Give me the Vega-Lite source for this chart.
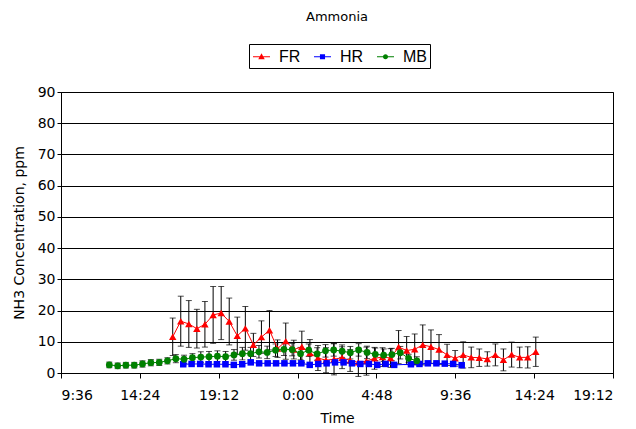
{
  "$schema": "https://vega.github.io/schema/vega-lite/v6.json",
  "width": 552,
  "height": 281,
  "autosize": {"type": "none"},
  "padding": {"left": 61, "top": 92, "right": 23, "bottom": 56},
  "background": "white",
  "title": {"text": "Ammonia", "offset": 20, "fontSize": 13, "fontWeight": "normal", "font": "DejaVu Sans", "color": "black", "anchor": "middle"},
  "data": {"values": [
    {"series":"FR","t":16.40,"v":11.6,"err":6.0},{"series":"FR","t":16.89,"v":16.6,"err":8.0},{"series":"FR","t":17.38,"v":15.7,"err":7.5},{"series":"FR","t":17.87,"v":14.2,"err":6.2},{"series":"FR","t":18.36,"v":15.6,"err":7.3},{"series":"FR","t":18.86,"v":18.6,"err":9.1},{"series":"FR","t":19.35,"v":19.2,"err":8.5},{"series":"FR","t":19.84,"v":16.5,"err":7.5},{"series":"FR","t":20.33,"v":11.9,"err":6.0},{"series":"FR","t":20.82,"v":14.3,"err":7.0},{"series":"FR","t":21.31,"v":9.0,"err":3.7},{"series":"FR","t":21.80,"v":11.5,"err":5.2},{"series":"FR","t":22.29,"v":13.7,"err":6.3},{"series":"FR","t":22.78,"v":7.8,"err":2.8},{"series":"FR","t":23.28,"v":10.2,"err":5.8},{"series":"FR","t":23.77,"v":7.5,"err":3.0},{"series":"FR","t":24.26,"v":8.4,"err":5.0},{"series":"FR","t":24.75,"v":6.4,"err":4.3},{"series":"FR","t":25.24,"v":4.8,"err":4.0},{"series":"FR","t":25.73,"v":4.1,"err":4.0},{"series":"FR","t":26.22,"v":4.4,"err":5.0},{"series":"FR","t":26.71,"v":4.9,"err":3.5},{"series":"FR","t":27.20,"v":4.0,"err":3.5},{"series":"FR","t":27.70,"v":3.4,"err":4.5},{"series":"FR","t":28.19,"v":3.8,"err":4.5},{"series":"FR","t":28.68,"v":4.7,"err":3.5},{"series":"FR","t":29.17,"v":5.1,"err":3.0},{"series":"FR","t":29.66,"v":4.8,"err":3.0},{"series":"FR","t":30.15,"v":8.3,"err":5.3},{"series":"FR","t":30.64,"v":7.2,"err":4.5},{"series":"FR","t":31.13,"v":7.6,"err":4.9},{"series":"FR","t":31.62,"v":9.0,"err":6.4},{"series":"FR","t":32.12,"v":8.4,"err":5.4},{"series":"FR","t":32.61,"v":7.5,"err":4.8},{"series":"FR","t":33.10,"v":5.8,"err":3.4},{"series":"FR","t":33.59,"v":4.7,"err":2.5},{"series":"FR","t":34.08,"v":5.8,"err":4.2},{"series":"FR","t":34.57,"v":5.0,"err":3.3},{"series":"FR","t":35.06,"v":4.9,"err":2.8},{"series":"FR","t":35.55,"v":4.5,"err":2.3},{"series":"FR","t":36.04,"v":5.8,"err":3.5},{"series":"FR","t":36.53,"v":4.2,"err":3.5},{"series":"FR","t":37.03,"v":5.9,"err":4.0},{"series":"FR","t":37.52,"v":5.0,"err":3.3},{"series":"FR","t":38.01,"v":5.0,"err":3.4},{"series":"FR","t":38.50,"v":6.8,"err":4.7},
    {"series":"HR","t":17.04,"v":2.8,"err":0.3},{"series":"HR","t":17.55,"v":2.9,"err":0.3},{"series":"HR","t":18.07,"v":2.9,"err":0.3},{"series":"HR","t":18.58,"v":2.8,"err":0.3},{"series":"HR","t":19.09,"v":2.8,"err":0.3},{"series":"HR","t":19.61,"v":2.8,"err":0.3},{"series":"HR","t":20.12,"v":2.6,"err":0.3},{"series":"HR","t":20.63,"v":2.8,"err":0.3},{"series":"HR","t":21.15,"v":3.4,"err":0.3},{"series":"HR","t":21.66,"v":3.1,"err":0.3},{"series":"HR","t":22.18,"v":3.1,"err":0.3},{"series":"HR","t":22.69,"v":3.1,"err":0.3},{"series":"HR","t":23.20,"v":3.1,"err":0.3},{"series":"HR","t":23.72,"v":3.1,"err":0.3},{"series":"HR","t":24.23,"v":3.1,"err":0.3},{"series":"HR","t":24.74,"v":2.6,"err":0.3},{"series":"HR","t":25.26,"v":2.9,"err":0.3},{"series":"HR","t":25.77,"v":3.1,"err":0.3},{"series":"HR","t":26.28,"v":3.4,"err":0.3},{"series":"HR","t":26.80,"v":3.4,"err":0.3},{"series":"HR","t":27.31,"v":3.1,"err":0.3},{"series":"HR","t":27.82,"v":2.9,"err":0.3},{"series":"HR","t":28.34,"v":2.9,"err":0.3},{"series":"HR","t":28.85,"v":2.6,"err":0.3},{"series":"HR","t":29.36,"v":2.9,"err":0.3},{"series":"HR","t":29.88,"v":2.6,"err":0.3},{"series":"HR","t":30.90,"v":2.8,"err":0.3},{"series":"HR","t":31.42,"v":2.9,"err":0.3},{"series":"HR","t":31.93,"v":3.1,"err":0.3},{"series":"HR","t":32.45,"v":3.1,"err":0.3},{"series":"HR","t":32.96,"v":3.0,"err":0.3},{"series":"HR","t":33.47,"v":2.9,"err":0.3},{"series":"HR","t":33.99,"v":2.5,"err":0.3},
    {"series":"MB","t":12.54,"v":2.6,"err":0.9},{"series":"MB","t":13.05,"v":2.3,"err":0.9},{"series":"MB","t":13.55,"v":2.5,"err":0.9},{"series":"MB","t":14.06,"v":2.5,"err":0.9},{"series":"MB","t":14.56,"v":2.9,"err":1.0},{"series":"MB","t":15.07,"v":3.3,"err":1.0},{"series":"MB","t":15.58,"v":3.4,"err":1.0},{"series":"MB","t":16.08,"v":3.9,"err":1.0},{"series":"MB","t":16.59,"v":4.6,"err":1.3},{"series":"MB","t":17.09,"v":4.4,"err":1.3},{"series":"MB","t":17.60,"v":4.9,"err":1.3},{"series":"MB","t":18.11,"v":5.1,"err":1.7},{"series":"MB","t":18.61,"v":5.2,"err":1.7},{"series":"MB","t":19.12,"v":5.4,"err":1.7},{"series":"MB","t":19.62,"v":5.2,"err":1.7},{"series":"MB","t":20.13,"v":5.8,"err":1.7},{"series":"MB","t":20.64,"v":6.2,"err":2.0},{"series":"MB","t":21.14,"v":6.2,"err":2.0},{"series":"MB","t":21.65,"v":6.8,"err":2.0},{"series":"MB","t":22.15,"v":6.6,"err":2.0},{"series":"MB","t":22.66,"v":7.3,"err":2.0},{"series":"MB","t":23.17,"v":7.6,"err":2.0},{"series":"MB","t":23.67,"v":7.5,"err":2.0},{"series":"MB","t":24.18,"v":6.2,"err":2.0},{"series":"MB","t":24.68,"v":7.3,"err":2.0},{"series":"MB","t":25.19,"v":6.1,"err":2.0},{"series":"MB","t":25.70,"v":7.1,"err":2.0},{"series":"MB","t":26.20,"v":7.4,"err":2.0},{"series":"MB","t":26.71,"v":7.0,"err":2.0},{"series":"MB","t":27.21,"v":6.5,"err":2.0},{"series":"MB","t":27.72,"v":7.4,"err":2.0},{"series":"MB","t":28.23,"v":6.6,"err":2.0},{"series":"MB","t":28.73,"v":6.0,"err":2.0},{"series":"MB","t":29.24,"v":5.7,"err":2.0},{"series":"MB","t":29.74,"v":5.9,"err":2.0},{"series":"MB","t":30.25,"v":6.5,"err":2.0},{"series":"MB","t":30.76,"v":4.7,"err":1.3},{"series":"MB","t":31.26,"v":3.9,"err":1.3}
  ]},
  "encoding": {
    "x": {"field": "t", "type": "quantitative",
      "scale": {"domain": [9.6, 43.2], "nice": false, "zero": false},
      "axis": {"title": "Time", "values": [9.6, 14.4, 19.2, 24, 28.8, 33.6, 38.4, 43.2],
        "labelExpr": "floor(datum.value % 24) + ':' + (round((datum.value % 1) * 60) < 10 ? '0' : '') + round((datum.value % 1) * 60)",
        "grid": false, "tickSize": 5, "labelPadding": 10, "titlePadding": 9}},
    "y": {"field": "v", "type": "quantitative",
      "scale": {"domain": [0, 90], "nice": false},
      "axis": {"title": "NH3 Concentration, ppm", "values": [0,10,20,30,40,50,60,70,80,90], "grid": true, "tickSize": 4, "labelPadding": 2, "titlePadding": 11}}
  },
  "layer": [
    {"mark": {"type": "errorbar", "ticks": {"size": 6}, "color": "black", "thickness": 1},
     "encoding": {"yError": {"field": "err"}}},
    {"transform": [{"filter": {"field": "series", "equal": "FR"}}],
     "mark": {"type": "line", "strokeWidth": 1, "color": "#FF0000",
       "point": {"shape": "triangle-up", "filled": true, "size": 55, "color": "#FF0000", "opacity": 1}}},
    {"transform": [{"filter": {"field": "series", "equal": "HR"}}],
     "mark": {"type": "line", "strokeWidth": 1, "color": "#0000FF",
       "point": {"shape": "square", "filled": true, "size": 42, "color": "#0000FF", "opacity": 1}}},
    {"transform": [{"filter": {"field": "series", "equal": "MB"}}],
     "mark": {"type": "line", "strokeWidth": 1, "color": "#008000",
       "point": {"shape": "circle", "filled": true, "size": 46, "color": "#008000", "opacity": 1}}},
    {"mark": {"type": "point", "filled": true, "opacity": 0},
     "encoding": {
       "color": {"field": "series", "type": "nominal",
         "scale": {"domain": ["FR","HR","MB"], "range": ["#FF0000","#0000FF","#008000"]},
         "legend": {"title": null, "orient": "none", "legendX": 188, "legendY": -48, "direction": "horizontal",
           "strokeColor": "black", "fillColor": "white", "padding": 3, "labelFontSize": 16, "labelFont": "Liberation Sans", "labelColor": "black",
           "symbolSize": 289, "symbolOpacity": 1, "columnPadding": 12, "labelOffset": 8,
           "encode": {"symbols": {"update": {"opacity": {"value": 1}}}}}},
       "shape": {"field": "series", "type": "nominal",
         "scale": {"domain": ["FR","HR","MB"], "range": [
           "M-1,-0.06H1V0.06H-1ZM0,-0.42L0.38,0.28L-0.38,0.28Z",
           "M-1,-0.06H1V0.06H-1ZM-0.3,-0.3H0.3V0.3H-0.3Z",
           "M-1,-0.06H1V0.06H-1ZM0.3,0A0.3,0.3 0 1,1 -0.3,0A0.3,0.3 0 1,1 0.3,0Z"]},
         "legend": {"title": null, "orient": "none", "legendX": 188, "legendY": -48, "direction": "horizontal",
           "strokeColor": "black", "fillColor": "white", "padding": 3, "labelFontSize": 16, "labelFont": "Liberation Sans", "labelColor": "black",
           "symbolSize": 289, "symbolOpacity": 1, "columnPadding": 12, "labelOffset": 8,
           "encode": {"symbols": {"update": {"opacity": {"value": 1}}}}}}}}
  ],
  "config": {
    "font": "DejaVu Sans",
    "view": {"stroke": "black", "strokeWidth": 1},
    "axis": {"domainColor": "black", "tickColor": "black", "gridColor": "black", "gridOpacity": 1, "gridWidth": 1,
      "labelColor": "black", "titleColor": "black", "labelFontSize": 14, "titleFontSize": 14, "titleFontWeight": "normal", "labelFont": "DejaVu Sans", "titleFont": "DejaVu Sans"}
  }
}
